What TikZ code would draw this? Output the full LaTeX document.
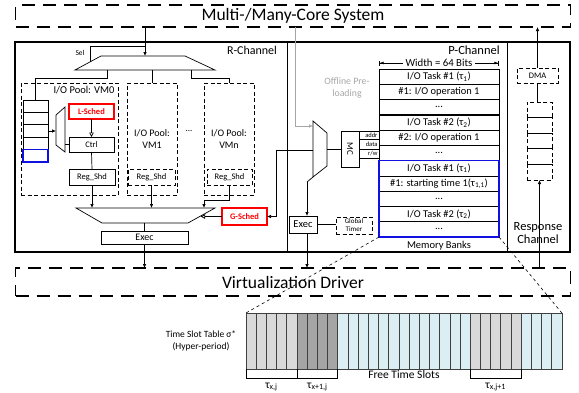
\documentclass[tikz,border=0pt]{standalone}
\usepackage{fontspec}
\setmainfont{Carlito}
\usetikzlibrary{arrows.meta,calc}
\definecolor{lgray}{HTML}{D9D9D9}
\definecolor{dgray}{HTML}{A5A5A5}
\definecolor{lblue}{HTML}{DAEEF3}
\definecolor{slotline}{HTML}{404040}
\definecolor{schedred}{HTML}{FF0000}
\definecolor{bankblue}{HTML}{1010E0}
\definecolor{pregray}{HTML}{A6A6A6}
\newcommand\fsz[1]{\fontsize{#1}{#1}\selectfont}
\begin{document}
\begin{tikzpicture}[x=1pt,y=-1pt,line width=0.7pt,
  every node/.style={inner sep=0pt,outer sep=0pt},
  bigdash/.style={draw,line width=1.1pt,dash pattern=on 13pt off 8pt},
  pooldash/.style={draw,line width=0.7pt,dash pattern=on 4pt off 2.5pt},
  box/.style={draw,line width=0.7pt},
  redbox/.style={draw=schedred,line width=1.3pt,text=schedred,font=\fsz{8.5}\bfseries},
  arr/.style={-{Latex[length=4pt,width=3.5pt]}},
  oarr/.style={-{Triangle[open,length=4.5pt,width=4.5pt]}},
  memrow/.style={draw,line width=0.7pt,minimum width=120pt,minimum height=15.27pt,font=\fsz{10.4}},
  stackcell/.style={pooldash,minimum width=25pt,minimum height=15.6pt}
]
\useasboundingbox (0,0) rectangle (579,392);

% system and driver
\node[bigdash,minimum width=555pt,minimum height=22pt,font=\fsz{17.5}] (sys) at (293,16) {Multi-/Many-Core System};
\node[bigdash,minimum width=555pt,minimum height=28pt,font=\fsz{17.5}] (vd) at (293,282) {Virtualization Driver};

% main frame
\node[draw,line width=1.4pt,minimum width=555pt,minimum height=210pt] (main) at (292.5,147) {};
\draw[line width=1pt] (287,42) -- (287,252);
\draw[line width=1pt] (507,42) -- (507,252);
\node[font=\fsz{12}] (rlab) at (252,50) {R-Channel};
\node[font=\fsz{12.5}] (plab) at (474,50) {P-Channel};
\node[font=\fsz{12.5},align=center] (resp) at (538,233) {Response\\[1pt]Channel};

% ---------- R-Channel ----------
\draw (101,56) -- (185,56) -- (215,70) -- (75,70) -- cycle;
\coordinate (rmuxin) at (145,56);
\coordinate (selp) at (90,62);
\coordinate (selj) at (145,46);
\coordinate (rmo1) at (107,70);
\coordinate (rmo2) at (152,70);
\coordinate (rmo3) at (191,70);
\draw[arr] (sys.south -| rmuxin) -- (rmuxin);
\draw (selp) |- (selj);
\node[font=\fsz{7.5}] (sel) at (80,53) {Sel};

% pools
\node[pooldash,minimum width=97pt,minimum height=112pt] (pool0) at (69.5,139) {};
\node[pooldash,minimum width=50pt,minimum height=112pt] (pool1) at (152,139) {};
\node[pooldash,minimum width=50pt,minimum height=112pt] (poolN) at (229,139) {};
\node[font=\fsz{10.5}] (p0lab) at (84,90) {I/O Pool: VM0};
\node[font=\fsz{10},align=center] (p1lab) at (152,139) {I/O Pool:\\[2pt]VM1};
\node[font=\fsz{10},align=center] (pNlab) at (229,139) {I/O Pool:\\[2pt]VMn};
\node[font=\fsz{9}] (pdots) at (189,131) {...};

% queue
\foreach \i in {1,...,4}{
  \node[box,minimum width=25pt,minimum height=12.4pt] (q\i) at (35.5,{100+12.4*(\i-0.5)}) {};
}
\node[draw=bankblue,line width=1.2pt,minimum width=25pt,minimum height=12.4pt] (q5) at (35.5,{100+12.4*4.5}) {};

\draw (rmo1) -- ++(0,8) -| (q1.north);
\draw (rmo2) -- (pool1.north);
\draw (rmo3) -- ++(0,8) -| (poolN.north);

% VM0 mux
\draw (56,115) -- (65,107) -- (65,152) -- (56,145) -- cycle;
\coordinate (vmuxin) at (56,131);
\coordinate (vmuxo) at (65,144.5);
\draw[arr] (q3.east) -- (q3.east -| vmuxin);

\node[redbox,minimum width=45pt,minimum height=15pt] (lsched) at (91.5,111.5) {L-Sched};
\node[box,minimum width=45pt,minimum height=15pt,font=\fsz{8.5}] (ctrl) at (91.5,144.5) {Ctrl};
\draw[oarr] (lsched.south) -- (ctrl.north);
\draw (vmuxo) -- (ctrl.west);

\node[box,minimum width=46pt,minimum height=16pt,font=\fsz{8.5}] (reg0) at (92,177) {Reg\_Shd};
\node[pooldash,minimum width=47pt,minimum height=16pt,font=\fsz{8.5}] (reg1) at (151.5,177) {Reg\_Shd};
\node[pooldash,minimum width=45pt,minimum height=16pt,font=\fsz{8.5}] (regN) at (229.5,177) {Reg\_Shd};
\draw (ctrl.south) -- (reg0.north);

% lower mux
\draw (76,208) -- (215,208) -- (188,223) -- (102,223) -- cycle;
\coordinate (lm1) at (92,208);
\coordinate (lm2) at (152,208);
\coordinate (lm3) at (204,208);
\coordinate (lmg) at (200.6,216.5);
\coordinate (lmo) at (144.5,223);
\draw[arr] (reg0.south) -- (lm1);
\draw[arr] (reg1.south) -- (reg1.south |- lm2);
\draw[arr] (regN.south) -- ++(0,15) -| (lm3);

\node[redbox,minimum width=45pt,minimum height=17pt] (gsched) at (244.5,216.5) {G-Sched};
\draw[oarr] (gsched.west) -- (lmg);

\node[box,minimum width=87pt,minimum height=13pt,font=\fsz{10}] (rexec) at (144.5,237.5) {Exec};
\draw (lmo) -- (rexec.north);
\draw[arr] (rexec.south) -- (rexec.south |- vd.north);

% ---------- P-Channel ----------
\node[font=\fsz{9.8},text=pregray,align=center] (offl) at (347,88) {Offline Pre-\\[2pt]loading};
\coordinate (pretop) at (295,27);
\coordinate (pmuxpre) at (313,126);
\draw[pregray,arr] (pretop) |- (pmuxpre);

\draw (313,121) -- (327,133) -- (327,166) -- (313,177) -- cycle;
\coordinate (pmuxl) at (313,150);
\coordinate (pmuxr) at (327,149);
\coordinate (pmuxbl) at (313,177);
\coordinate (pbend) at (307,182);
\coordinate (gbend) at (276,150);
\draw[arr] (pmuxl) -- (gbend) |- (gsched.east);

\node[box,minimum width=18pt,minimum height=36pt] (mcbox) at (350,149) {};
\node[font=\fsz{9},rotate=-90] (mctext) at (mcbox) {MC};
\draw (pmuxr) -- (mcbox.west |- pmuxr);

% memory table
\node[memrow] (m1) at (439,76.6) {I/O Task \#1 (τ\textsubscript{1})};
\node[memrow] (m2) at (439,91.9) {\#1: I/O operation 1};
\node[memrow] (m3) at (439,107.2) {...};
\node[memrow] (m4) at (439,122.5) {I/O Task \#2 (τ\textsubscript{2})};
\node[memrow] (m5) at (439,137.7) {\#2: I/O operation 1};
\node[memrow] (m6) at (439,153.0) {...};
\node[memrow] (m7) at (439,168.3) {I/O Task \#1 (τ\textsubscript{1})};
\node[memrow] (m8) at (439,183.6) {\#1: starting time 1(τ\textsubscript{1,1})};
\node[memrow] (m9) at (439,198.8) {...};
\node[memrow] (m10) at (439,214.1) {I/O Task \#2 (τ\textsubscript{2})};
\node[memrow] (m11) at (439,229.4) {...};
\draw[bankblue,line width=1.3pt] (m7.north west) rectangle (m11.south east);
\node[font=\fsz{10.5}] (mbanks) at (439,245.5) {Memory Banks};

\node[font=\fsz{10.8},fill=white,inner xsep=3pt] (wtext) at (439,63) {Width = 64 Bits};
\draw[-{Latex[length=4pt,width=3pt]Bar[width=5pt]}] (wtext.west) -- (wtext.west -| m1.west);
\draw[-{Latex[length=4pt,width=3pt]Bar[width=5pt]}] (wtext.east) -- (wtext.east -| m1.east);

% addr/data/rw
\foreach \yy in {131,139.5,149,158}{
  \draw[line width=0.5pt] (mcbox.east |- 0,\yy) -- (m1.west |- 0,\yy);
}
\node[font=\fsz{6.5},anchor=east] (addr) at (377.5,135.3) {addr};
\node[font=\fsz{6.5},anchor=east] (data) at (377.5,144.3) {data};
\node[font=\fsz{6.5},anchor=east] (rw) at (377.5,153.5) {r/w};

% P exec
\node[box,minimum width=28pt,minimum height=17pt,font=\fsz{10.5}] (pexec) at (303,224.5) {Exec};
\node[pooldash,minimum width=36pt,minimum height=17pt,font=\fsz{7},align=center] (gt) at (354,225.5) {Global\\[1pt]Timer};
\draw (pmuxbl) -- (pbend);
\draw[arr] (pbend) -- (pbend |- pexec.north);
\draw (pexec.east) -- (gt.west |- pexec.east);
\draw[arr] (pbend |- pexec.south) -- (pbend |- vd.north);

% ---------- Response channel ----------
\node[pooldash,minimum width=41pt,minimum height=15pt,font=\fsz{8.5}] (dma) at (537.5,75.5) {DMA};
\draw[arr] (dma.north) -- (dma.north |- sys.south);
\foreach \i in {1,...,5}{
  \node[stackcell] (st\i) at (539.5,{102+15.6*(\i-0.5)}) {};
}
\draw (dma.south) -- (dma.south |- st1.north);
\draw[arr] (vd.north -| st5.south) -- (st5.south);

% ---------- time slot table ----------
\foreach \i in {0,...,30}{
  \pgfmathsetmacro\xa{246+\i*10.19}
  \ifnum\i<5 \def\cc{lgray}\else\ifnum\i<9 \def\cc{dgray}\else\ifnum\i<22 \def\cc{lblue}\else\ifnum\i<27 \def\cc{lgray}\else\def\cc{lblue}\fi\fi\fi\fi
  \node[draw=slotline,fill=\cc,line width=0.6pt,minimum width=10.19pt,minimum height=56pt,anchor=north west] (s\i) at (\xa,313) {};
}
\draw[dashed,line width=0.6pt] (m11.south west) -- (s0.north west);
\draw[dashed,line width=0.6pt] (m11.south east) -- (s30.north east);

\draw (s0.south west) -- ++(0,9) -| (s4.south east);
\draw (s5.south west) -- ++(0,9) -| (s8.south east);
\draw (s22.south west) -- ++(0,9) -| (s26.south east);
\node[font=\fsz{11.5}] (t1) at ($(s0.south west)!0.5!(s4.south east)+(0,18)$) {τ\textsubscript{x,j}};
\node[font=\fsz{11.5}] (t2) at ($(s5.south west)!0.5!(s8.south east)+(0,18)$) {τ\textsubscript{x+1,j}};
\node[font=\fsz{11.5}] (t3) at ($(s22.south west)!0.5!(s26.south east)+(0,18)$) {τ\textsubscript{x,j+1}};
\node[font=\fsz{11.5}] (free) at ($(s9.south west)!0.5!(s21.south east)+(0,6)$) {Free Time Slots};
\node[font=\fsz{9.5},align=center] (tst) at (201,341) {Time Slot Table σ*\\[3pt](Hyper-period)};
\end{tikzpicture}
\end{document}
